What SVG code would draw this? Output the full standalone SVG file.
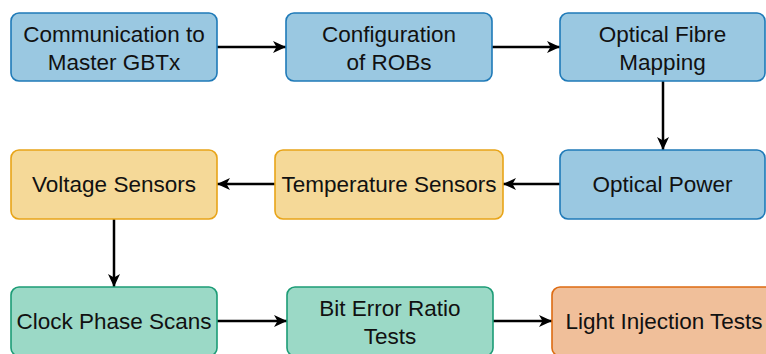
<svg xmlns="http://www.w3.org/2000/svg" width="766" height="354" viewBox="0 0 766 354">
  <style>
    .box { stroke-width: 1.6; }
    .blue { fill: #9ac8e1; stroke: #1f7ab8; }
    .yellow { fill: #f5d998; stroke: #e8a418; }
    .green { fill: #9bd9c6; stroke: #1c9c76; }
    .orange { fill: #f0bf9a; stroke: #dd6b12; }
    text { font-family: "Liberation Sans", Arial, sans-serif; font-size: 22.5px; fill: #111; text-anchor: middle; }
    .edge { stroke: #000; stroke-width: 2.5; fill: none; marker-end: url(#tip); }
  </style>
  <defs>
    <marker id="tip" viewBox="0 0 14 14" refX="13" refY="7" markerWidth="14" markerHeight="14" markerUnits="userSpaceOnUse" orient="auto">
      <path d="M0,1 L13,7 L0,13 L3.5,7 Z" fill="#000"/>
    </marker>
  </defs>

  <!-- connectors -->
  <g id="edges">
    <line class="edge" x1="217" y1="47" x2="286" y2="47"/>
    <line class="edge" x1="492" y1="47" x2="560" y2="47"/>
    <line class="edge" x1="663" y1="81" x2="663" y2="150"/>
    <line class="edge" x1="560" y1="184" x2="503" y2="184"/>
    <line class="edge" x1="275" y1="184" x2="217" y2="184"/>
    <line class="edge" x1="114" y1="219" x2="114" y2="287"/>
    <line class="edge" x1="217" y1="321" x2="287" y2="321"/>
    <line class="edge" x1="493" y1="321" x2="552" y2="321"/>
  </g>

  <!-- row 1 -->
  <g id="comm">
    <rect class="box blue" x="11" y="13" width="206" height="68" rx="8"/>
    <text x="114" y="42">Communication to</text>
    <text x="114" y="70">Master GBTx</text>
  </g>
  <g id="config">
    <rect class="box blue" x="286" y="13" width="206" height="68" rx="8"/>
    <text x="389" y="42">Configuration</text>
    <text x="389" y="70">of ROBs</text>
  </g>
  <g id="fibre">
    <rect class="box blue" x="560" y="13" width="205" height="68" rx="8"/>
    <text x="662.5" y="42">Optical Fibre</text>
    <text x="662.5" y="70">Mapping</text>
  </g>

  <!-- row 2 -->
  <g id="power">
    <rect class="box blue" x="560" y="150" width="205" height="69" rx="8"/>
    <text x="662.5" y="192">Optical Power</text>
  </g>
  <g id="temp">
    <rect class="box yellow" x="275" y="150" width="228" height="69" rx="8"/>
    <text x="389" y="192">Temperature Sensors</text>
  </g>
  <g id="volt">
    <rect class="box yellow" x="11" y="150" width="206" height="69" rx="8"/>
    <text x="114" y="192">Voltage Sensors</text>
  </g>

  <!-- row 3 -->
  <g id="clock">
    <rect class="box green" x="11" y="287" width="206" height="69" rx="8"/>
    <text x="114" y="329">Clock Phase Scans</text>
  </g>
  <g id="ber">
    <rect class="box green" x="287" y="287" width="206" height="69" rx="8"/>
    <text x="390" y="316">Bit Error Ratio</text>
    <text x="390" y="344">Tests</text>
  </g>
  <g id="light">
    <rect class="box orange" x="552" y="287" width="223" height="69" rx="8"/>
    <text x="664" y="329">Light Injection Tests</text>
  </g>
</svg>
